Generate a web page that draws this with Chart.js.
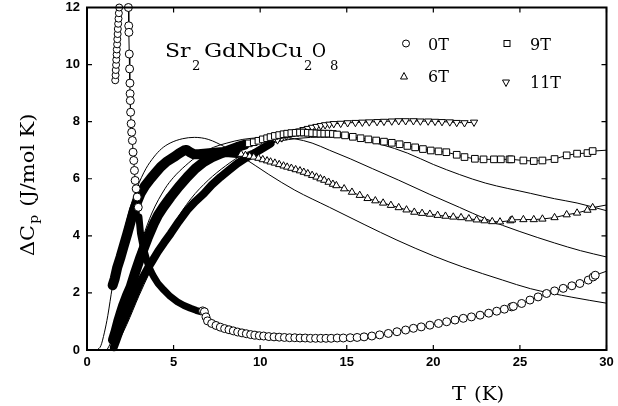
<!DOCTYPE html>
<html>
<head>
<meta charset="utf-8">
<script src="https://cdn.jsdelivr.net/npm/chart.js@4/dist/chart.umd.min.js"></script>
<style>
  html, body { margin: 0; padding: 0; background: #fff; }
</style>
</head>
<body>
<canvas id="cp" width="618" height="406"></canvas>
<script>
// axis ticks
const xTicks = [0, 5, 10, 15, 20, 25, 30];
const yTicks = [0, 2, 4, 6, 8, 10, 12];

// 0T, low-temperature side of the Gd peak (runs off the top)
const zeroLowT = [1.63, 1.65, 1.66, 1.68, 1.69, 1.71, 1.72, 1.74, 1.75, 1.77,
                  1.78, 1.8, 1.82, 1.84, 1.86];
const zeroLowC = [9.45, 9.63, 9.81, 9.99, 10.17, 10.35, 10.53, 10.71, 10.89, 11.07,
                  11.25, 11.43, 11.61, 11.8, 12.0];

// 0T
const zeroT = [2.39, 2.41, 2.42, 2.44, 2.46, 2.48, 2.49, 2.5, 2.52, 2.55,
               2.58, 2.62, 2.66, 2.7, 2.74, 2.78, 2.84, 2.9, 2.96, 3.0,
               3.09, 3.2, 3.29, 3.45, 3.58, 3.72, 3.86, 4.1, 4.44, 4.8,
               5.21, 5.6, 5.98, 6.3, 6.56, 6.68, 6.78, 6.87, 6.96, 7.2,
               7.45, 7.7, 7.95, 8.2, 8.45, 8.7, 8.95, 9.2, 9.45, 9.7,
               9.95, 10.2, 10.5, 10.8, 11.1, 11.4, 11.7, 12.0, 12.3, 12.6,
               12.9, 13.2, 13.5, 13.8, 14.1, 14.45, 14.8, 15.2, 15.6, 16.0,
               16.45, 16.9, 17.4, 17.9, 18.4, 18.85, 19.3, 19.8, 20.3, 20.77,
               21.25, 21.73, 22.2, 22.7, 23.2, 23.66, 24.1, 24.52, 24.62, 25.1,
               25.58, 26.05, 26.54, 27.0, 27.5, 28.0, 28.46, 28.95, 29.23, 29.35,
               30];
const zeroC = [12.0, 11.36, 11.13, 10.37, 9.85, 9.35, 8.98, 8.74, 8.33, 7.93,
               7.63, 7.34, 6.93, 6.64, 6.29, 5.94, 5.65, 5.36, 5.0, 4.66,
               4.09, 3.75, 3.5, 3.15, 2.91, 2.72, 2.56, 2.33, 2.1, 1.88,
               1.69, 1.56, 1.46, 1.39, 1.34, 1.37, 1.34, 1.16, 1.02, 0.93,
               0.86, 0.8, 0.75, 0.71, 0.67, 0.63, 0.6, 0.57, 0.54, 0.52,
               0.5, 0.49, 0.47, 0.46, 0.45, 0.44, 0.43, 0.43, 0.42, 0.42,
               0.41, 0.41, 0.41, 0.41, 0.41, 0.42, 0.42, 0.43, 0.44, 0.46,
               0.49, 0.53, 0.58, 0.64, 0.7, 0.76, 0.81, 0.87, 0.93, 0.99,
               1.05, 1.11, 1.16, 1.22, 1.29, 1.36, 1.43, 1.51, 1.53, 1.63,
               1.75, 1.86, 1.98, 2.07, 2.16, 2.25, 2.33, 2.45, 2.56, 2.62,
               2.76];

// 6T
const sixT = [1.48, 1.6, 1.75, 1.94, 2.1, 2.33, 2.5, 2.71, 2.9, 3.09,
              3.35, 3.67, 3.95, 4.25, 4.6, 5.02, 5.3, 5.6, 5.75, 5.95,
              6.17, 6.45, 6.75, 7.2, 7.71, 8.2, 8.67, 8.9, 9.15, 9.4,
              9.63, 9.9, 10.15, 10.4, 10.6, 10.85, 11.1, 11.35, 11.56, 11.8,
              12.05, 12.3, 12.52, 12.75, 13.0, 13.25, 13.48, 13.7, 13.95, 14.2,
              14.4, 14.85, 15.3, 15.75, 16.2, 16.65, 17.1, 17.55, 18.0, 18.45,
              18.9, 19.35, 19.8, 20.25, 20.7, 21.15, 21.6, 22.05, 22.5, 22.95,
              23.4, 23.85, 24.45, 24.55, 25.2, 25.8, 26.3, 27.0, 27.7, 28.3,
              28.9, 29.2, 30];
const sixC = [2.27, 2.5, 2.9, 3.26, 3.6, 4.08, 4.45, 4.9, 5.2, 5.48,
              5.75, 6.0, 6.2, 6.41, 6.6, 6.76, 6.88, 6.99, 7.01, 6.93,
              6.86, 6.86, 6.88, 6.9, 6.93, 6.93, 6.9, 6.86, 6.82, 6.79,
              6.76, 6.72, 6.67, 6.63, 6.59, 6.55, 6.5, 6.45, 6.41, 6.37,
              6.32, 6.28, 6.23, 6.18, 6.12, 6.06, 6.0, 5.95, 5.88, 5.81,
              5.76, 5.65, 5.53, 5.42, 5.31, 5.23, 5.15, 5.07, 4.99, 4.91,
              4.83, 4.79, 4.76, 4.72, 4.69, 4.66, 4.64, 4.6, 4.56, 4.53,
              4.5, 4.49, 4.53, 4.56, 4.57, 4.57, 4.59, 4.64, 4.74, 4.8,
              4.9, 4.99, 5.08];

// 9T
const nineT = [1.5, 1.65, 1.8, 1.95, 2.1, 2.3, 2.52, 2.8, 3.09, 3.3,
               3.5, 3.86, 4.1, 4.4, 4.83, 5.3, 5.79, 6.25, 6.75, 7.2,
               7.71, 8.2, 8.67, 9.1, 9.35, 9.63, 9.9, 10.15, 10.4, 10.6,
               10.85, 11.1, 11.35, 11.56, 11.8, 12.05, 12.3, 12.52, 12.75, 13.0,
               13.25, 13.48, 13.7, 13.95, 14.2, 14.44, 14.9, 15.35, 15.8, 16.25,
               16.7, 17.15, 17.6, 18.05, 18.5, 18.95, 19.4, 19.85, 20.3, 20.75,
               21.35, 21.8, 22.4, 22.9, 23.5, 23.9, 24.4, 24.5, 25.2, 25.8,
               26.3, 27.0, 27.7, 28.3, 28.9, 29.2, 30];
const nineC = [0.35, 0.65, 1.0, 1.3, 1.58, 1.9, 2.21, 2.75, 3.26, 3.6,
               3.92, 4.43, 4.72, 5.0, 5.36, 5.72, 6.06, 6.35, 6.59, 6.75,
               6.88, 7.0, 7.11, 7.19, 7.24, 7.28, 7.33, 7.38, 7.42, 7.46,
               7.5, 7.53, 7.56, 7.58, 7.6, 7.61, 7.62, 7.62, 7.61, 7.6,
               7.59, 7.58, 7.58, 7.58, 7.57, 7.55, 7.52, 7.47, 7.42, 7.38,
               7.34, 7.3, 7.26, 7.21, 7.15, 7.1, 7.04, 6.99, 6.96, 6.93,
               6.84, 6.76, 6.7, 6.68, 6.68, 6.68, 6.68, 6.68, 6.64, 6.62,
               6.64, 6.69, 6.82, 6.88, 6.9, 6.97, 7.0];

// 11T
const elevenT = [1.55, 1.7, 1.85, 2.0, 2.2, 2.5, 2.8, 3.1, 3.5, 3.8,
                 4.1, 4.45, 4.83, 5.3, 5.79, 6.25, 6.75, 7.2, 7.71, 8.2,
                 8.67, 9.15, 9.63, 10.1, 10.6, 11.0, 11.25, 11.5, 11.75, 12.0,
                 12.25, 12.5, 12.75, 13.0, 13.25, 13.5, 13.75, 14.0, 14.25, 14.65,
                 15.05, 15.5, 15.9, 16.3, 16.75, 17.15, 17.6, 18.0, 18.4, 18.85,
                 19.25, 19.7, 20.1, 20.5, 20.95, 21.35, 21.8, 22.35];
const elevenC = [0.1, 0.35, 0.6, 0.85, 1.12, 1.55, 1.98, 2.4, 2.85, 3.15,
                 3.45, 3.76, 4.08, 4.5, 4.9, 5.2, 5.48, 5.78, 6.06, 6.3,
                 6.53, 6.72, 6.88, 7.05, 7.23, 7.36, 7.43, 7.5, 7.56, 7.62,
                 7.67, 7.72, 7.76, 7.8, 7.83, 7.86, 7.89, 7.91, 7.93, 7.94,
                 7.96, 7.97, 7.98, 7.99, 8.0, 8.01, 8.02, 8.03, 8.03, 8.03,
                 8.02, 8.02, 8.01, 8.0, 7.99, 7.97, 7.96, 7.98];

// Schottky fits (thin solid lines)
const fit6T = [0.58, 0.8, 1.0, 1.2, 1.46, 1.7, 2.0, 2.5, 2.9, 3.4,
               3.86, 4.3, 4.8, 5.5, 6.2, 7.0, 8.0, 9.0, 10.5, 12.0,
               14.0, 16.0, 17.9, 20.0, 21.7, 24.0, 25.6, 28.0, 30.0];
const fit6C = [0, 0.15, 0.6, 1.2, 2.2, 3.0, 3.8, 5.0, 5.7, 6.35,
               6.76, 7.05, 7.25, 7.4, 7.45, 7.38, 7.1, 6.75, 6.15, 5.6,
               5.0, 4.4, 3.85, 3.3, 2.91, 2.45, 2.15, 1.85, 1.64];
const fit9T = [1.15, 1.4, 1.7, 2.2, 2.7, 3.2, 3.75, 4.5, 5.0, 5.67,
               6.5, 7.3, 8.08, 9.0, 10.0, 11.0, 12.0, 13.0, 14.0, 15.2,
               16.5, 18.0, 19.8, 21.5, 23.0, 25.0, 27.0, 28.5, 30.0];
const fit9C = [0, 0.3, 0.9, 1.75, 2.9, 3.9, 4.8, 5.65, 6.05, 6.45,
               6.85, 7.1, 7.25, 7.38, 7.44, 7.46, 7.4, 7.25, 7.0, 6.7,
               6.35, 5.95, 5.45, 5.0, 4.6, 4.15, 3.75, 3.48, 3.26];
const fit11T = [1.4, 1.8, 2.3, 3.0, 3.6, 4.2, 5.0, 6.0, 7.0, 8.0,
                9.0, 10.0, 11.0, 12.3, 13.5, 14.4, 15.5, 17.0, 18.5, 20.0,
                21.5, 23.0, 25.6, 27.0, 28.3, 30.0];
const fit11C = [0, 0.3, 0.9, 1.9, 2.7, 3.5, 4.4, 5.3, 5.95, 6.45,
                6.85, 7.1, 7.3, 7.42, 7.46, 7.46, 7.4, 7.2, 6.9, 6.5,
                6.15, 5.85, 5.49, 5.3, 5.15, 4.88];

const pts = (xs, ys) => xs.map((x, i) => ({ x: x, y: ys[i] }));

// dense low-T stretches where the markers merge into a solid ribbon
function series(xs, ys, shape, rot, r, band, bandWidth) {
    const inBand = x => x >= band[0] && x <= band[1];
    return {
        data: pts(xs, ys),
        borderColor: '#000',
        borderWidth: 1,
        borderJoinStyle: 'round',
        borderCapStyle: 'round',
        pointStyle: shape,
        rotation: rot,
        pointRotation: rot,
        pointRadius: c => (c.raw && (inBand(c.raw.x) || c.raw.x >= 29.9)) ? 0 : r,
        pointBorderWidth: 1,
        pointBorderColor: '#000',
        pointBackgroundColor: '#fff',
        segment: {
            borderWidth: c => (inBand(c.p0.parsed.x) && inBand(c.p1.parsed.x)) ? bandWidth : 1
        },
        tension: 0,
        clip: false
    };
}

function fitLine(xs, ys) {
    return {
        data: pts(xs, ys),
        borderColor: '#000',
        borderWidth: 1,
        pointRadius: 0,
        cubicInterpolationMode: 'monotone',
        clip: 2
    };
}

const frame = {
    id: 'frame',
    afterDatasetsDraw(chart) {
        const { ctx, chartArea: a, scales: { x, y } } = chart;
        ctx.save();
        ctx.strokeStyle = '#000';
        ctx.lineWidth = 1.2;
        ctx.beginPath();
        xTicks.forEach(v => {
            const p = x.getPixelForValue(v);
            ctx.moveTo(p, a.bottom); ctx.lineTo(p, a.bottom - 5);
            ctx.moveTo(p, a.top); ctx.lineTo(p, a.top + 5);
        });
        yTicks.forEach(v => {
            const p = y.getPixelForValue(v);
            ctx.moveTo(a.left, p); ctx.lineTo(a.left + 5, p);
            ctx.moveTo(a.right, p); ctx.lineTo(a.right - 5, p);
        });
        ctx.stroke();
        ctx.lineWidth = 2;
        ctx.strokeRect(a.left, a.top, a.right - a.left, a.bottom - a.top);
        ctx.restore();
    },
    afterDraw(chart) {
        const ctx = chart.ctx;
        // text with an optional horizontal stretch k, returns the end x
        const put = (s, x, y, size, k) => {
            k = k || 1;
            ctx.save();
            ctx.font = size + 'px "DejaVu Serif"';
            ctx.translate(x, y);
            ctx.scale(k, 1);
            ctx.fillText(s, 0, 0);
            const w = ctx.measureText(s).width * k;
            ctx.restore();
            return x + w;
        };
        ctx.save();
        ctx.fillStyle = '#000';
        ctx.strokeStyle = '#000';
        ctx.textBaseline = 'alphabetic';
        ctx.textAlign = 'left';

        // compound
        put('Sr', 165, 57, 18, 1.22);
        put('2', 192, 70, 12, 1.1);
        put('GdNbCu', 204, 57, 18, 1.26);
        put('2', 304, 70, 12, 1.1);
        put('O', 312, 57, 18, 0.95);
        put('8', 330, 70, 12, 1.1);

        // key
        ctx.lineWidth = 1;
        ctx.beginPath(); ctx.arc(406, 43.5, 3.5, 0, Math.PI * 2); ctx.stroke();
        ctx.strokeRect(504, 40.5, 6, 6);
        ctx.beginPath(); ctx.moveTo(404, 72.5); ctx.lineTo(407.5, 79); ctx.lineTo(400.5, 79); ctx.closePath(); ctx.stroke();
        ctx.beginPath(); ctx.moveTo(506, 86.5); ctx.lineTo(509.5, 80); ctx.lineTo(502.5, 80); ctx.closePath(); ctx.stroke();
        put('0T', 428, 50, 16);
        put('9T', 530, 50, 16);
        put('6T', 428, 82, 16);
        put('11T', 530, 88, 16);

        // axis titles
        put('T', 452, 400, 18, 1.15);
        put('(K)', 474, 400, 18, 1.1);
        ctx.translate(34, 256);
        ctx.rotate(-Math.PI / 2);
        let w = put('\u0394C', 0, 0, 19, 1.1);
        w = put('p', w + 1, 4, 13, 1.1);
        put('(J/mol K)', w + 8, 0, 19, 1.1);
        ctx.restore();
    }
};

new Chart(document.getElementById('cp'), {
    type: 'line',
    data: {
        datasets: [
            series(zeroLowT, zeroLowC, 'circle', 0, 3.5, [0, 0], 1),
            series(zeroT, zeroC, 'circle', 0, 4, [3.0, 6.56], 7),
            series(sixT, sixC, 'triangle', 0, 4.2, [1.48, 8.67], 10),
            series(nineT, nineC, 'rect', 0, 4.7, [1.5, 9.1], 10),
            series(elevenT, elevenC, 'triangle', 180, 4.2, [1.55, 10.6], 8),
            fitLine(fit6T, fit6C),
            fitLine(fit9T, fit9C),
            fitLine(fit11T, fit11C)
        ]
    },
    options: {
        responsive: false,
        devicePixelRatio: 1,
        animation: false,
        events: [],
        layout: { padding: { top: 7.5, right: 11.5, left: 0, bottom: 0 } },
        plugins: {
            legend: { display: false },
            tooltip: { enabled: false }
        },
        scales: {
            x: {
                type: 'linear', min: 0, max: 30,
                afterBuildTicks: s => { s.ticks = xTicks.map(v => ({ value: v })); },
                afterFit: s => { s.height = 56; s.paddingLeft = 0; s.paddingRight = 0; },
                grid: { display: false, drawTicks: false },
                border: { display: false },
                ticks: {
                    padding: 5, color: '#000', maxRotation: 0, autoSkip: false,
                    font: { family: 'Liberation Sans', weight: 'bold', size: 13 }
                }
            },
            y: {
                type: 'linear', min: 0, max: 12,
                afterBuildTicks: s => { s.ticks = yTicks.map(v => ({ value: v })); },
                afterFit: s => { s.width = 87; s.paddingTop = 0; s.paddingBottom = 0; },
                grid: { display: false, drawTicks: false },
                border: { display: false },
                ticks: {
                    padding: 7, color: '#000', autoSkip: false,
                    font: { family: 'Liberation Sans', weight: 'bold', size: 13 }
                }
            }
        }
    },
    plugins: [frame]
});
</script>
</body>
</html>
